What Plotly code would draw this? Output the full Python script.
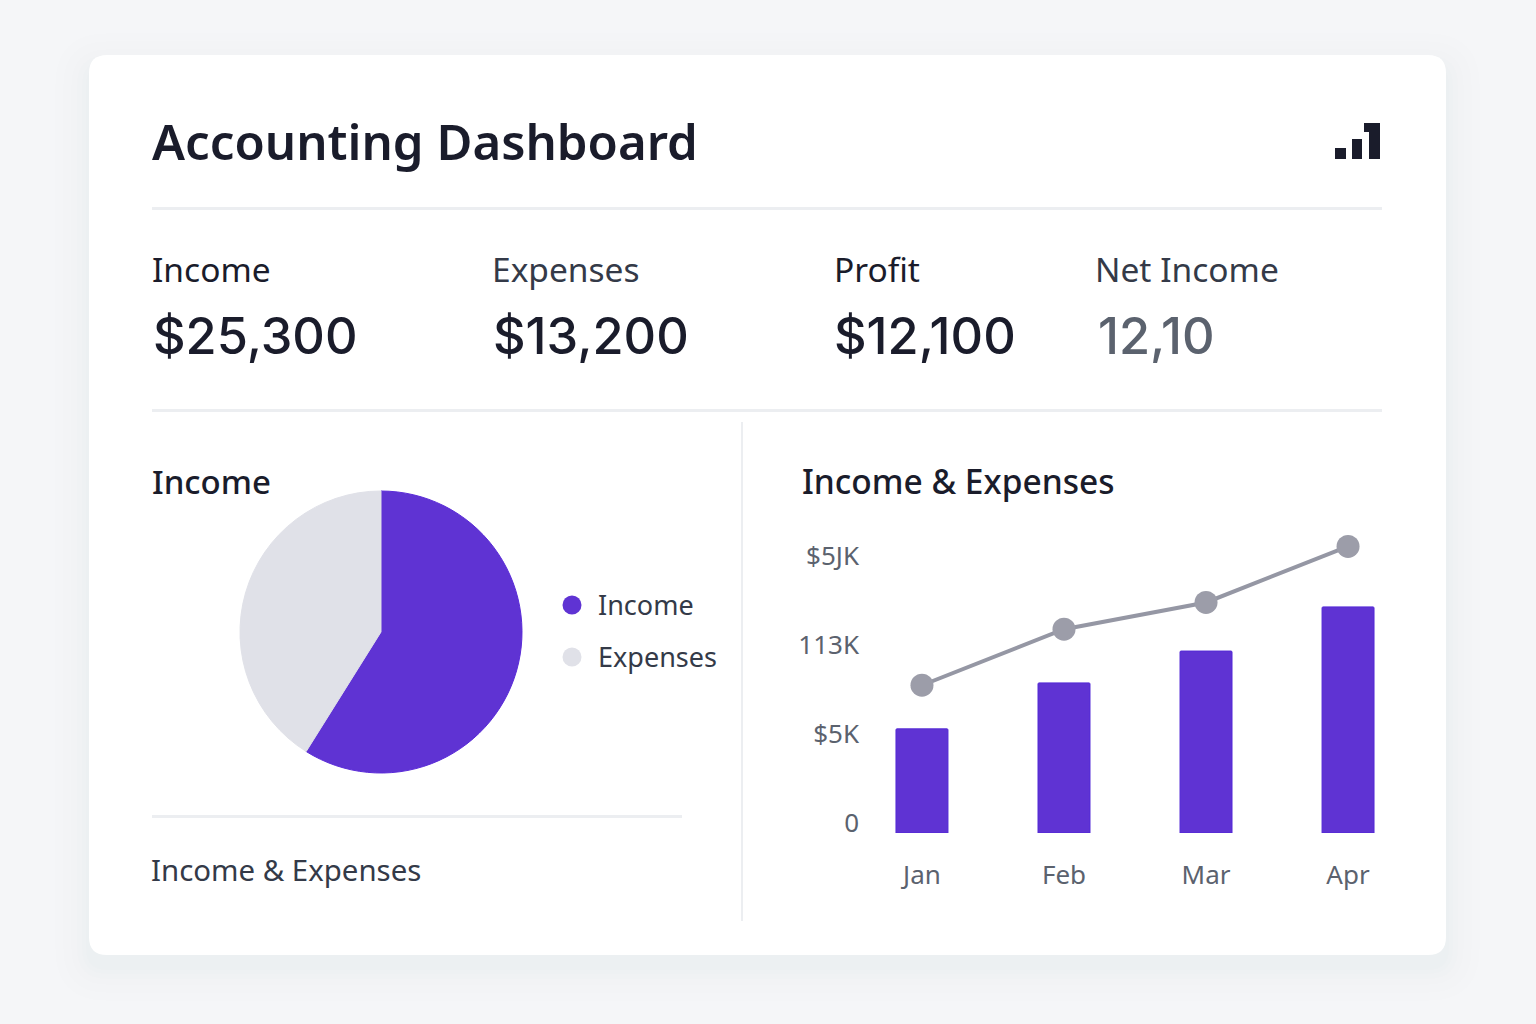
import plotly.graph_objects as go

W, H = 1536, 1024

# Chart data
months = ["Jan", "Feb", "Mar", "Apr"]
bar_values = [5.85, 8.43, 10.22, 12.7]
line_values = [8.3, 11.45, 12.95, 16.1]
y_tick_values = [0, 5, 10, 15]
y_tick_labels = ["0", "$5K", "113K", "$5JK"]
pie_labels = ["Income", "Expenses"]
pie_values = [58.9, 41.1]
kpi_labels = ["Income", "Expenses", "Profit", "Net Income"]
kpi_values = ["$25,300", "$13,200", "$12,100", "12,10"]

INK = "#1a1c2b"
SLATE = "#343a48"
MUTED = "#5b626e"
PURPLE = "#5f33d3"
PALE = "#e0e1e8"
RULE = "#eceef1"
FONT = "Noto Sans"
NUMBER_FONT = "Inter"


def px(x):
    return x / W


def py(y):
    return 1 - y / H


def rounded(x0, y0, x1, y1, r):
    xa, xb, ya, yb = px(x0), px(x1), py(y0), py(y1)
    rx, ry = r / W, r / H
    return (
        f"M{xa + rx},{ya} L{xb - rx},{ya} Q{xb},{ya} {xb},{ya - ry} "
        f"L{xb},{yb + ry} Q{xb},{yb} {xb - rx},{yb} L{xa + rx},{yb} "
        f"Q{xa},{yb} {xa},{yb + ry} L{xa},{ya - ry} Q{xa},{ya} {xa + rx},{ya} Z"
    )


def box(x0, y0, x1, y1, color):
    return dict(type="rect", xref="paper", yref="paper", x0=px(x0), x1=px(x1),
                y0=py(y1), y1=py(y0), fillcolor=color, line_width=0, layer="below")


def dot(cx, cy, r, color):
    return dict(type="circle", xref="paper", yref="paper", x0=px(cx - r), x1=px(cx + r),
                y0=py(cy + r), y1=py(cy - r), fillcolor=color, line_width=0, layer="below")


def label(x, y, text, size, color, weight=400, family=FONT):
    return dict(x=px(x), y=py(y), xref="paper", yref="paper", text=text, showarrow=False,
                xanchor="left", yanchor="middle", align="left",
                font=dict(family=family, size=size, color=color, weight=weight))


# Soft card shadow, widest layer first
shapes = []
for grow, alpha in [(34, 0.004), (26, 0.005), (18, 0.005), (12, 0.006), (7, 0.007), (3, 0.009)]:
    shapes.append(dict(type="path", xref="paper", yref="paper", layer="below", line_width=0,
                       path=rounded(89 - grow, 55 - grow + 12, 1446 + grow, 955 + grow + 12, 18 + grow),
                       fillcolor=f"rgba(60,66,100,{alpha})"))
shapes.append(dict(type="path", xref="paper", yref="paper", layer="below", line_width=0,
                   path=rounded(89, 55, 1446, 955, 18), fillcolor="#ffffff"))

# Divider rules
shapes += [
    box(152, 207, 1382, 210, RULE),
    box(152, 409, 1382, 412, RULE),
    box(152, 815, 682, 818, RULE),
    box(741, 422, 743, 921, RULE),
]

# Header icon
shapes += [
    box(1335, 148, 1346, 159, INK),
    box(1352, 139, 1362, 159, INK),
    box(1369, 123, 1380, 159, INK),
    box(1364, 123, 1369, 132, INK),
]

# Pie legend swatches
shapes += [dot(572, 605, 9.5, PURPLE), dot(572, 657, 9.5, PALE)]

kpi_x = [150, 490, 832, 1093]
kpi_colors = [INK, SLATE, INK, SLATE]
value_x = [151, 491, 832, 1096]
annotations = [label(150, 140, "Accounting Dashboard", 49.2, INK, 600)]
for x, text, color in zip(kpi_x, kpi_labels, kpi_colors):
    annotations.append(label(x, 268.5, text, 33.5, color))
for x, text, color in zip(value_x, kpi_values, [INK, INK, INK, MUTED]):
    annotations.append(label(x, 335.5, text, 50.5, color, 500, NUMBER_FONT))
annotations += [
    label(150, 481.5, "Income", 33, INK, 500),
    label(800, 480.5, "Income &amp; Expenses", 33.5, INK, 500),
    label(149, 869.5, "Income &amp; Expenses", 29.4, SLATE),
    label(596, 604, pie_labels[0], 27, SLATE),
    label(596, 656, pie_labels[1], 27, SLATE),
]

fig = go.Figure()
fig.add_trace(go.Pie(
    labels=pie_labels, values=pie_values, sort=False, direction="clockwise", rotation=0,
    textinfo="none", hoverinfo="label+percent", showlegend=False, automargin=False,
    marker=dict(colors=[PURPLE, PALE], line=dict(color=["#5a2bd8", PALE], width=1)),
    domain=dict(x=[px(240), px(522)], y=[py(774), py(490)]),
))
fig.add_trace(go.Bar(
    x=months, y=bar_values, width=0.366, showlegend=False,
    marker=dict(color=PURPLE, line=dict(color="#5329d6", width=1), cornerradius=1),
))
fig.add_trace(go.Scatter(
    x=months, y=line_values, mode="lines+markers", showlegend=False,
    line=dict(color="#9597a4", width=4),
    marker=dict(color="#9c9da9", size=23),
))

fig.update_layout(
    width=W, height=H, margin=dict(l=0, r=0, t=0, b=0), autosize=False,
    paper_bgcolor="#f5f6f8", plot_bgcolor="rgba(0,0,0,0)",
    shapes=shapes, annotations=annotations,
    font=dict(family=FONT),
    xaxis=dict(
        domain=[px(868), px(1380)], range=[-0.38, 3.225], type="category",
        categoryorder="array", categoryarray=months, automargin=False,
        anchor="free", position=py(857),
        showgrid=False, zeroline=False, showline=False, ticks="",
        tickfont=dict(family=FONT, size=26, color=MUTED),
    ),
    yaxis=dict(
        domain=[py(833), py(530)], range=[0, 17.02], automargin=False,
        tickmode="array", tickvals=y_tick_values, ticktext=y_tick_labels,
        showgrid=False, zeroline=False, showline=False, ticks="",
        ticklabelshift=-10, ticklabelstandoff=8,
        tickfont=dict(family=FONT, size=26, color=MUTED),
    ),
)

fig.write_html("out.html")
